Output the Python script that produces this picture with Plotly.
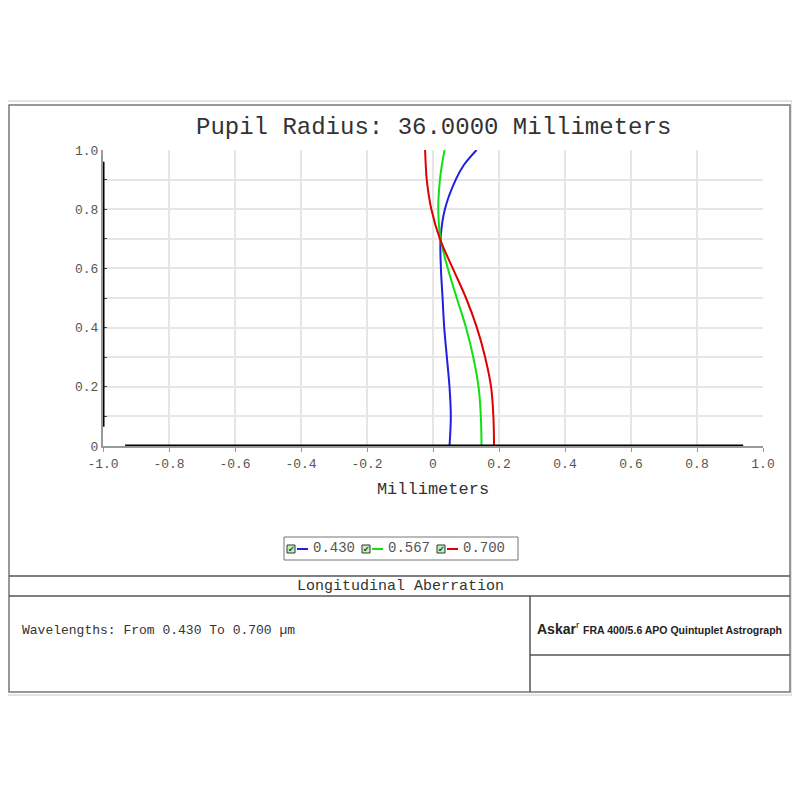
import plotly.graph_objects as go

# =========================
# DATA
# =========================
pupil = [0.0, 0.1, 0.2, 0.3, 0.4, 0.5, 0.6, 0.7, 0.8, 0.9, 0.95, 1.0]

ab_430 = [0.050, 0.054, 0.050, 0.042, 0.034, 0.029, 0.024, 0.023, 0.036, 0.069, 0.094, 0.132]
ab_567 = [0.147, 0.145, 0.138, 0.122, 0.100, 0.072, 0.045, 0.023, 0.016, 0.021, 0.027, 0.035]
ab_700 = [0.185, 0.183, 0.176, 0.158, 0.133, 0.100, 0.060, 0.021, -0.005, -0.019, -0.022, -0.024]

wavelengths = ["0.430", "0.567", "0.700"]
colors = ["#2020e0", "#10e010", "#e00000"]

x_ticks = [-1.0, -0.8, -0.6, -0.4, -0.2, 0.0, 0.2, 0.4, 0.6, 0.8, 1.0]
x_labels = ["-1.0", "-0.8", "-0.6", "-0.4", "-0.2", "0", "0.2", "0.4", "0.6", "0.8", "1.0"]
y_ticks = [0.0, 0.2, 0.4, 0.6, 0.8, 1.0]
y_labels = ["0", "0.2", "0.4", "0.6", "0.8", "1.0"]

MONO = "Liberation Mono, Courier New, monospace"
W, H = 784, 784
OFF = 8  # page body margin


# page pixel -> paper fraction
def px(x):
    return (x - OFF) / W


def py(y):
    return 1 - (y - OFF) / H


fig = go.Figure()

for ab, c, name in zip([ab_430, ab_567, ab_700], colors, wavelengths):
    fig.add_trace(go.Scatter(
        x=ab, y=pupil, mode="lines", name=name,
        line=dict(color=c, width=2, shape="spline", smoothing=1.0),
        showlegend=False,
    ))

# =========================
# LAYOUT
# =========================
fig.update_layout(
    width=W, height=H,
    margin=dict(l=0, r=0, t=0, b=0, pad=0),
    autosize=False,
    paper_bgcolor="white",
    plot_bgcolor="white",
    showlegend=False,
    font=dict(family=MONO, color="#333"),
)

fig.update_xaxes(
    domain=[px(103), px(763)],
    range=[-1, 1],
    automargin=False,
    tickvals=x_ticks, ticktext=x_labels,
    tickfont=dict(family=MONO, size=13, color="#555"),
    showgrid=True, gridcolor="#e6e6e6", gridwidth=2,
    zeroline=False,
    showline=True, linecolor="#999", linewidth=2,
    ticks="outside", ticklen=4, tickcolor="#999",
    title=dict(text="Millimeters", font=dict(family=MONO, size=17, color="#333"), standoff=12),
)
fig.update_yaxes(
    domain=[py(446), py(150)],
    range=[0, 1],
    automargin=False,
    tickvals=y_ticks, ticktext=y_labels,
    tickfont=dict(family=MONO, size=13, color="#555"),
    showgrid=True, gridcolor="#e6e6e6", gridwidth=2,
    minor=dict(dtick=0.1, tick0=0, showgrid=True, gridcolor="#e6e6e6", gridwidth=2,
               ticks="inside", ticklen=4, tickcolor="#444"),
    zeroline=False,
    showline=True, linecolor="#999", linewidth=2,
    ticks="inside", ticklen=4, tickcolor="#444",
)

shapes = []
# black axis bars and zero line
shapes.append(dict(type="line", xref="x", yref="y", x0=-1, x1=-1, y0=0.065, y1=0.96,
                   line=dict(color="black", width=3)))
shapes.append(dict(type="line", xref="x", yref="y", x0=-0.933, x1=0.94, y0=0, y1=0,
                   line=dict(color="black", width=3)))
shapes.append(dict(type="line", xref="x", yref="y", x0=0, x1=0, y0=0, y1=1,
                   line=dict(color="black", width=2), layer="below"))

# frame (right edge pulled in to stay on the page)
shapes.append(dict(type="rect", xref="paper", yref="paper", x0=px(4), x1=px(792), y0=py(695), y1=py(101),
                   line=dict(color="#c8c8c8", width=1)))
shapes.append(dict(type="rect", xref="paper", yref="paper", x0=px(9), x1=px(790), y0=py(692), y1=py(105),
                   line=dict(color="#777", width=1.5)))
shapes.append(dict(type="line", xref="paper", yref="paper", x0=px(9), x1=px(790), y0=py(576), y1=py(576),
                   line=dict(color="#555", width=1.5)))
shapes.append(dict(type="line", xref="paper", yref="paper", x0=px(9), x1=px(790), y0=py(596), y1=py(596),
                   line=dict(color="#555", width=1.5)))
shapes.append(dict(type="line", xref="paper", yref="paper", x0=px(530), x1=px(530), y0=py(596), y1=py(692),
                   line=dict(color="#555", width=1.5)))
shapes.append(dict(type="line", xref="paper", yref="paper", x0=px(530), x1=px(790), y0=py(655), y1=py(655),
                   line=dict(color="#555", width=1.5)))

# legend box
shapes.append(dict(type="rect", xref="paper", yref="paper", x0=px(284), x1=px(518), y0=py(560), y1=py(537),
                   line=dict(color="#777", width=1)))

annotations = [
    dict(text="Pupil Radius: 36.0000 Millimeters", x=px(433), y=py(127), xref="paper", yref="paper",
         yanchor="middle", showarrow=False, font=dict(family=MONO, size=24, color="#333")),
    dict(text="Longitudinal Aberration", x=px(400), y=py(586), xref="paper", yref="paper",
         yanchor="middle", showarrow=False, font=dict(family=MONO, size=15, color="#333")),
    dict(text="Wavelengths: From 0.430 To 0.700 µm", x=px(20), y=py(630), xref="paper", yref="paper",
         xanchor="left", yanchor="middle", showarrow=False, font=dict(family=MONO, size=13, color="#333")),
    dict(text="<b>Askar</b><sup>r</sup> <b><span style='font-size:10.5px'>FRA 400/5.6 APO Quintuplet Astrograph</span></b>",
         x=px(535), y=py(628), xref="paper", yref="paper", xanchor="left", yanchor="middle", showarrow=False,
         font=dict(family="Liberation Sans, Arial, sans-serif", size=14, color="#222")),
]

# custom legend entries
for i, (name, c) in enumerate(zip(wavelengths, colors)):
    x0 = 286 + i * 75
    shapes.append(dict(type="rect", xref="paper", yref="paper", x0=px(x0 + 1), x1=px(x0 + 9),
                       y0=py(553), y1=py(545), fillcolor="#c8ecc8", line=dict(color="#333", width=1)))
    annotations.append(dict(text="✔", x=px(x0 + 5), y=py(549), xref="paper", yref="paper",
                            yanchor="middle", showarrow=False,
                            font=dict(family="DejaVu Sans", size=8, color="#006000")))
    shapes.append(dict(type="line", xref="paper", yref="paper", x0=px(x0 + 11), x1=px(x0 + 22),
                       y0=py(549), y1=py(549), line=dict(color=c, width=2)))
    annotations.append(dict(text=name, x=px(x0 + 25), y=py(548), xref="paper", yref="paper",
                            xanchor="left", yanchor="middle", showarrow=False,
                            font=dict(family=MONO, size=14, color="#555")))

fig.update_layout(shapes=shapes, annotations=annotations)

fig.write_html("out.html")
